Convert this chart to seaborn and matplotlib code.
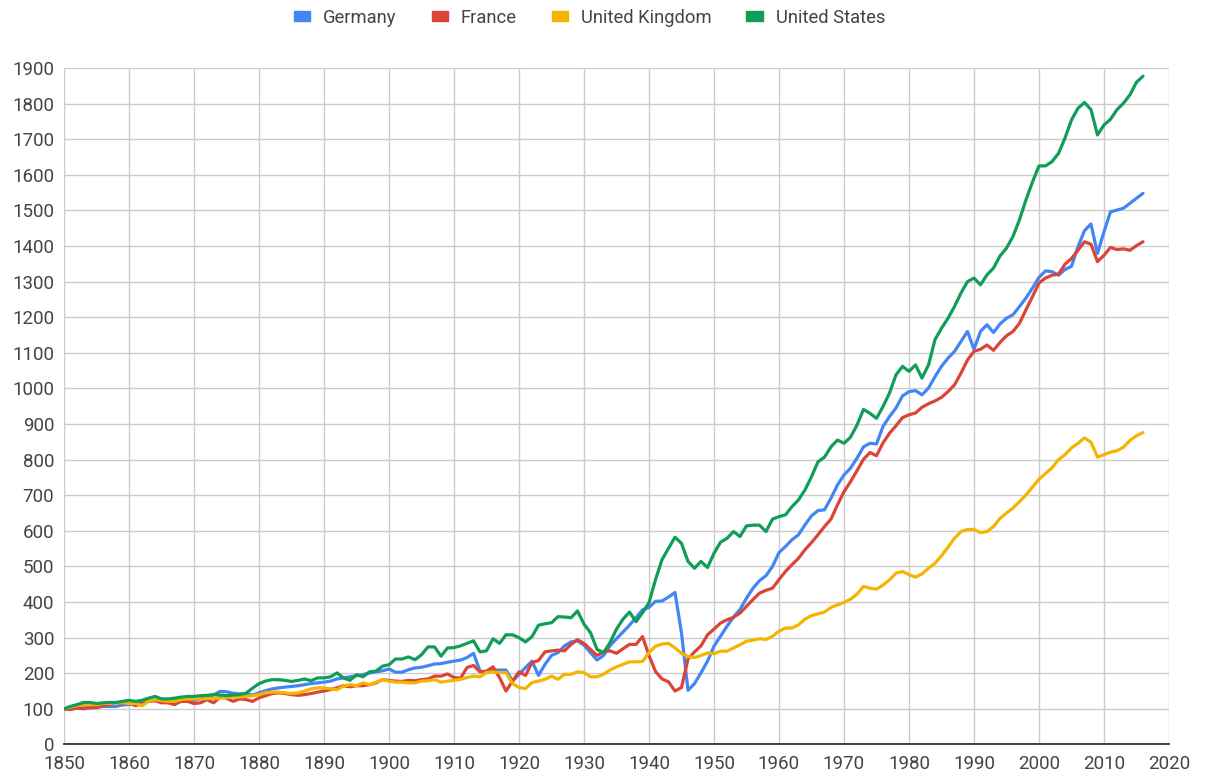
import matplotlib
matplotlib.use("Agg")
import matplotlib.pyplot as plt
from matplotlib.patches import Patch
import seaborn as sns
import pandas as pd
import numpy as np

years = list(range(1850, 2017))

germany = [
    100, 100, 102, 103, 102, 105, 107, 107, 107, 111,
    112, 115, 115, 121, 124, 124, 121, 126, 128, 126,
    124, 128, 133, 139, 149, 148, 144, 142, 142, 139,
    145, 151, 156, 159, 161, 163, 165, 168, 171, 173,
    175, 178, 184, 187, 190, 193, 196, 201, 204, 207,
    212, 203, 203, 210, 215, 217, 221, 226, 227, 231,
    234, 237, 244, 256, 206, 204, 209, 209, 209, 178,
    197, 216, 234, 194, 225, 250, 258, 277, 288, 291,
    279, 258, 237, 250, 277, 297, 316, 335, 356, 378,
    385, 402, 403, 414, 427, 313, 152, 171, 201, 234,
    276, 304, 332, 358, 379, 411, 439, 460, 474, 500,
    539, 556, 575, 589, 617, 642, 657, 659, 692, 729,
    757, 776, 804, 836, 846, 844, 893, 921, 945, 979,
    991, 994, 982, 1001, 1033, 1062, 1085, 1104, 1132, 1160,
    1110, 1160, 1179, 1157, 1181, 1197, 1207, 1230, 1254, 1282,
    1312, 1330, 1328, 1318, 1334, 1343, 1398, 1443, 1462, 1379,
    1440, 1496, 1501, 1506, 1520, 1534, 1548,
]

france = [
    100, 98, 103, 100, 105, 103, 109, 112, 118, 115,
    117, 109, 115, 121, 123, 117, 117, 112, 121, 121,
    115, 117, 126, 117, 133, 130, 121, 128, 126, 121,
    131, 137, 143, 145, 143, 140, 138, 140, 143, 147,
    150, 154, 159, 165, 162, 165, 165, 168, 173, 182,
    180, 178, 177, 180, 179, 182, 184, 192, 192, 198,
    188, 186, 216, 222, 204, 206, 218, 188, 150, 178,
    204, 194, 230, 236, 260, 263, 265, 263, 281, 294,
    284, 267, 250, 260, 263, 256, 269, 281, 281, 303,
    250, 205, 184, 176, 150, 160, 240, 260, 277, 308,
    324, 341, 350, 357, 369, 388, 407, 425, 433, 439,
    463, 486, 505, 523, 547, 567, 589, 612, 633, 673,
    710, 738, 769, 801, 820, 811, 847, 874, 895, 918,
    926, 931, 947, 957, 965, 975, 991, 1010, 1043, 1080,
    1104, 1110, 1122, 1107, 1129, 1148, 1160, 1183, 1221, 1258,
    1296, 1310, 1318, 1321, 1349, 1365, 1388, 1412, 1405, 1356,
    1374, 1396, 1390, 1392, 1388, 1401, 1412,
]

united_kingdom = [
    100, 105, 109, 112, 112, 112, 115, 115, 117, 117,
    115, 115, 109, 121, 126, 123, 121, 121, 126, 128,
    128, 128, 129, 130, 130, 132, 133, 133, 135, 137,
    140, 145, 147, 147, 145, 143, 145, 150, 156, 159,
    159, 156, 154, 164, 168, 165, 173, 168, 175, 182,
    178, 175, 175, 173, 173, 178, 179, 182, 175, 178,
    180, 183, 188, 192, 190, 202, 204, 202, 202, 171,
    160, 157, 174, 178, 183, 192, 183, 197, 197, 204,
    202, 190, 190, 197, 209, 218, 225, 232, 232, 233,
    258, 276, 282, 284, 271, 256, 247, 244, 250, 257,
    255, 262, 262, 271, 280, 290, 293, 297, 295, 304,
    318, 327, 327, 336, 352, 362, 367, 372, 385, 392,
    399, 408, 422, 444, 439, 436, 448, 462, 481, 486,
    477, 470, 479, 495, 509, 530, 554, 579, 598, 604,
    604, 595, 598, 612, 635, 650, 664, 682, 701, 723,
    745, 761, 777, 800, 814, 833, 846, 861, 849, 807,
    814, 821, 825, 835, 854, 867, 876,
]

united_states = [
    100, 107, 112, 118, 118, 115, 117, 118, 118, 121,
    124, 121, 124, 130, 135, 128, 128, 130, 133, 135,
    135, 137, 138, 140, 139, 137, 139, 140, 144, 158,
    171, 178, 182, 182, 180, 177, 180, 184, 179, 187,
    187, 190, 201, 187, 180, 196, 190, 204, 206, 220,
    224, 240, 240, 246, 238, 252, 274, 274, 248, 271,
    272, 277, 284, 291, 260, 263, 297, 284, 308, 308,
    300, 288, 303, 335, 339, 342, 359, 358, 356, 375,
    338, 314, 267, 258, 286, 324, 352, 372, 345, 370,
    398, 463, 519, 551, 582, 565, 514, 495, 514, 497,
    537, 568, 579, 598, 584, 614, 616, 616, 598, 633,
    640, 645, 668, 687, 715, 752, 794, 807, 836, 855,
    846, 863, 897, 941, 930, 916, 949, 987, 1038, 1062,
    1048, 1066, 1029, 1066, 1137, 1169, 1197, 1230, 1268, 1300,
    1310, 1291, 1319, 1338, 1372, 1394, 1427, 1474, 1530, 1580,
    1625, 1625, 1637, 1660, 1703, 1754, 1787, 1803, 1783, 1712,
    1740, 1756, 1783, 1801, 1825, 1860, 1877,
]

series_names = ["Germany", "France", "United Kingdom", "United States"]
colors = ["#4285F4", "#DB4437", "#F4B400", "#0F9D58"]
y_ticks = list(range(0, 2000, 100))
x_ticks = list(range(1850, 2030, 10))

df = pd.concat([
    pd.DataFrame({"year": years, "value": vals, "country": name})
    for name, vals in zip(series_names, [germany, france, united_kingdom, united_states])
])

sns.set_style("white")
plt.rcParams["font.family"] = ["Roboto", "DejaVu Sans"]

fig = plt.figure(figsize=(12.08, 7.78), dpi=100)
ax = fig.add_axes([0.053, 0.0431, 0.9147, 0.8695])

sns.lineplot(data=df, x="year", y="value", hue="country", hue_order=series_names,
             palette=colors, linewidth=2.3, ax=ax, legend=False, zorder=3)

ax.set_xlim(1850, 2020)
ax.set_ylim(0, 1900)
ax.set_xticks(x_ticks)
ax.set_yticks(y_ticks)
ax.set_xlabel("")
ax.set_ylabel("")
ax.grid(True, color="#cccccc", linewidth=1.0, zorder=0)
ax.set_axisbelow(True)
for s in ["top", "right", "left"]:
    ax.spines[s].set_visible(False)
ax.spines["bottom"].set_color("#333333")
ax.spines["bottom"].set_linewidth(1.3)
ax.spines["bottom"].set_zorder(4)
ax.tick_params(axis="both", length=0, labelsize=13.5, labelcolor="#444444")
ax.tick_params(axis="x", pad=7.5)
ax.tick_params(axis="y", pad=7)

handles = [Patch(facecolor=c, edgecolor=c, label=n) for n, c in zip(series_names, colors)]
leg = fig.legend(handles=handles, loc="center", bbox_to_anchor=(0.488, 0.977), ncol=4,
                 frameon=False, fontsize=13.2, handlelength=0.9, handleheight=0.45,
                 handletextpad=0.7, columnspacing=1.9)
for t in leg.get_texts():
    t.set_color("#444444")

fig.savefig("out.png", dpi=100)
